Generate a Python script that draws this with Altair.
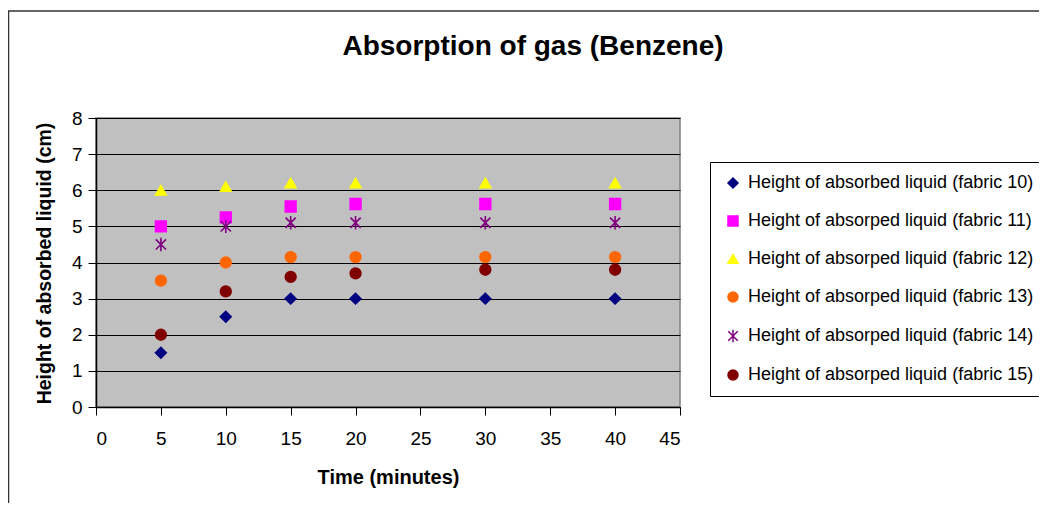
import altair as alt
import pandas as pd

times = [5, 10, 15, 20, 30, 40]
fabric10 = [1.5, 2.5, 3.0, 3.0, 3.0, 3.0]
fabric11 = [5.0, 5.25, 5.55, 5.62, 5.62, 5.62]
fabric12 = [6.0, 6.1, 6.2, 6.2, 6.2, 6.2]
fabric13 = [3.5, 4.0, 4.15, 4.15, 4.15, 4.15]
fabric14 = [4.5, 5.0, 5.1, 5.1, 5.1, 5.1]
fabric15 = [2.0, 3.2, 3.6, 3.7, 3.8, 3.8]

series_names = [
    "Height of absorbed liquid (fabric 10)",
    "Height of absorped liquid (fabric 11)",
    "Height of absorped liquid (fabric 12)",
    "Height of absorped liquid (fabric 13)",
    "Height of absorped liquid (fabric 14)",
    "Height of absorped liquid (fabric 15)",
]
series_values = [fabric10, fabric11, fabric12, fabric13, fabric14, fabric15]
colors = ["#000080", "#FF00FF", "#FFFF00", "#FF6600", "#800080", "#800000"]
asterisk = "M-0.95,-0.95L0.95,0.95M0.95,-0.95L-0.95,0.95M0,-1.25L0,1.25"
shapes = ["diamond", "square", "triangle-up", "circle", asterisk, "circle"]

x_ticks = [0, 5, 10, 15, 20, 25, 30, 35, 40, 45]
y_ticks = [0, 1, 2, 3, 4, 5, 6, 7, 8]

rows = []
for name, vals in zip(series_names, series_values):
    for t, v in zip(times, vals):
        rows.append({"Time": t, "Height": v, "Series": name})
df = pd.DataFrame(rows)

FONT = "Liberation Sans"

legend = alt.Legend(
    title=None,
    orient="none",
    legendX=614,
    legendY=44,
    strokeColor="#000000",
    fillColor="#FFFFFF",
    padding=12,
    labelFont=FONT,
    labelFontSize=18,
    labelColor="#000000",
    labelLimit=400,
    labelOffset=6,
    rowPadding=20,
    symbolSize=100,
    symbolOffset=2,
    symbolStrokeWidth=1.5,
)

scale = alt.Scale(domain=series_names, range=colors)

points = alt.Chart(df).mark_point(filled=True, size=115, strokeWidth=1.6, opacity=1).encode(
    x=alt.X(
        "Time:Q",
        scale=alt.Scale(domain=[0, 45], nice=False),
        axis=alt.Axis(
            values=x_ticks,
            title="Time (minutes)",
            labelFontSize=19,
            labelPadding=14,
            titleFontSize=20,
            titleFontWeight="bold",
            titleY=70,
            titleBaseline="middle",
        ),
    ),
    y=alt.Y(
        "Height:Q",
        scale=alt.Scale(domain=[0, 8], nice=False),
        axis=alt.Axis(
            values=y_ticks,
            title="Height of absorbed liquid (cm)",
            labelFontSize=19,
            labelPadding=6,
            titleFontSize=19.5,
            titleFontWeight="bold",
            titleX=-52,
            titleY=145,
            titleAngle=270,
            titleAlign="center",
            titleBaseline="middle",
        ),
    ),
    color=alt.Color("Series:N", scale=scale, legend=legend),
    stroke=alt.Stroke("Series:N", scale=scale, legend=legend),
    shape=alt.Shape("Series:N", scale=alt.Scale(domain=series_names, range=shapes), legend=legend),
)

frame = alt.Chart(alt.Data(values=[{}])).mark_rect(
    fill=None, stroke="#333333", strokeWidth=1.5, clip=False
).encode(
    x=alt.value(-87.5), x2=alt.value(980), y=alt.value(-107), y2=alt.value(420)
)

title = alt.Chart(alt.Data(values=[{}])).mark_text(
    text="Absorption of gas (Benzene)",
    font=FONT,
    fontSize=28,
    fontWeight="bold",
    align="center",
    baseline="middle",
    color="#000000",
).encode(x=alt.value(437), y=alt.value(-71))

chart = alt.layer(frame, title, points).properties(
    width=584,
    height=289,
    autosize=alt.AutoSizeParams(type="none"),
    padding={"left": 88, "top": 110, "right": 359, "bottom": 96},
    background="#FFFFFF",
).configure(
    font=FONT,
).configure_view(
    fill="#C0C0C0", stroke="#808080", strokeWidth=1.5
).configure_axis(
    labelFont=FONT,
    titleFont=FONT,
    labelColor="#000000",
    titleColor="#000000",
    domainColor="#000000",
    domainWidth=1.5,
    tickColor="#000000",
    tickSize=8,
    tickWidth=1,
    grid=False,
).configure_axisY(grid=True, gridColor="#000000", gridWidth=1, gridOpacity=1)

chart.save("out.html", embed_options={"renderer": "svg", "actions": False})
